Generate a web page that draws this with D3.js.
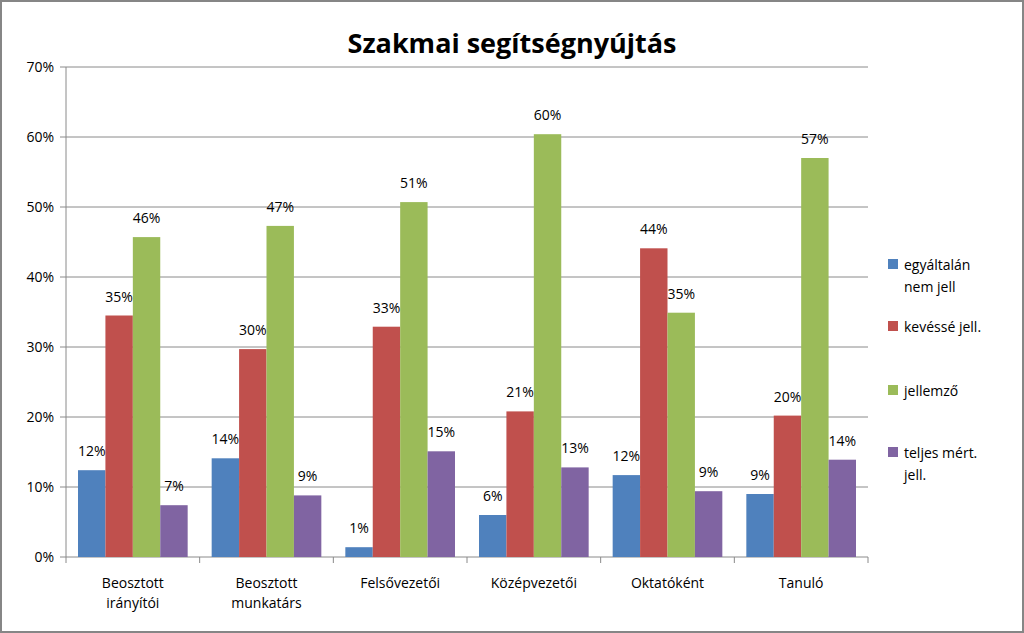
<!DOCTYPE html>
<html><head><meta charset="utf-8">
<script src="https://cdn.jsdelivr.net/npm/d3@7"></script>
<style>body{margin:0;background:#fff}text{font-family:"Open Sans","Liberation Sans",sans-serif}</style>
</head><body><svg id="c" width="1024" height="633"></svg>
<script>
const categories = [["Beosztott","irányítói"],["Beosztott","munkatárs"],["Felsővezetői"],["Középvezetői"],["Oktatóként"],["Tanuló"]];
const series = ["egyáltalán nem jell", "kevéssé jell.", "jellemző", "teljes mért. jell."];
const legendLines = [["egyáltalán","nem jell"],["kevéssé jell."],[" jellemző"],["teljes mért.","jell."]];
const colors = ["#4F81BD", "#C0504D", "#9BBB59", "#8064A2"];
const values = [
  [12.4, 34.5, 45.7, 7.4],
  [14.1, 29.7, 47.3, 8.8],
  [1.4, 32.9, 50.7, 15.1],
  [6.0, 20.8, 60.4, 12.8],
  [11.7, 44.1, 34.9, 9.4],
  [9.0, 20.2, 57.0, 13.9]
];
const yTicks = [0,10,20,30,40,50,60,70];

const svg = d3.select("#c");
svg.append("rect").attr("x",1).attr("y",1).attr("width",1022).attr("height",631)
  .attr("fill","#fff").attr("stroke","#868686").attr("stroke-width",2);
svg.append("text").attr("x",512).attr("y",53).attr("text-anchor","middle")
  .attr("font-size",27).attr("font-weight","bold").text("Szakmai segítségnyújtás");

const x0 = d3.scaleBand().domain(d3.range(categories.length)).range([66,868]);
const x1 = d3.scaleBand().domain(d3.range(series.length)).range([12, x0.bandwidth()-12]).padding(0);
const y = d3.scaleLinear().domain([0,70]).range([557,67]);

svg.append("g").selectAll("line").data(yTicks).join("line")
  .attr("x1",66).attr("x2",868).attr("y1",d=>y(d)).attr("y2",d=>y(d)).attr("stroke","#8a8a8a");
svg.append("line").attr("x1",66).attr("x2",66).attr("y1",67).attr("y2",557).attr("stroke","#8a8a8a");
svg.append("g").selectAll("line").data(yTicks).join("line")
  .attr("x1",60).attr("x2",66).attr("y1",d=>y(d)).attr("y2",d=>y(d)).attr("stroke","#8a8a8a");
svg.append("g").selectAll("text").data(yTicks).join("text")
  .attr("x",54).attr("y",d=>y(d)+5).attr("text-anchor","end").attr("font-size",14).text(d=>d+"%");
svg.append("g").selectAll("line").data(d3.range(categories.length+1)).join("line")
  .attr("x1",d=>66+d*x0.bandwidth()).attr("x2",d=>66+d*x0.bandwidth()).attr("y1",557).attr("y2",563).attr("stroke","#8a8a8a");

const g = svg.append("g").selectAll("g").data(values).join("g")
  .attr("transform",(d,i)=>`translate(${x0(i)},0)`);
g.selectAll("rect").data(d=>d).join("rect")
  .attr("x",(d,j)=>x1(j)).attr("width",x1.bandwidth()).attr("y",d=>y(d)).attr("height",d=>557-y(d))
  .attr("fill",(d,j)=>colors[j]);
g.selectAll("text").data(d=>d).join("text")
  .attr("x",(d,j)=>x1(j)+x1.bandwidth()/2).attr("y",d=>y(d)-14).attr("text-anchor","middle")
  .attr("font-size",14).text(d=>Math.round(d)+"%");

const cl = svg.append("g").selectAll("text").data(categories).join("text")
  .attr("x",(d,i)=>x0(i)+x0.bandwidth()/2).attr("y",588).attr("text-anchor","middle").attr("font-size",14);
cl.selectAll("tspan").data(d=>d).join("tspan").attr("x",function(){return this.parentNode.getAttribute("x");})
  .attr("dy",(d,k)=>k?20:0).text(d=>d);

const lg = svg.append("g").selectAll("g").data(legendLines).join("g")
  .attr("transform",(d,i)=>`translate(888,${[259,321,385,447][i]})`);
lg.append("rect").attr("width",10).attr("height",10).attr("fill",(d,i)=>colors[i]);
lg.append("text").attr("x",16).attr("y",11).attr("font-size",14)
  .selectAll("tspan").data(d=>d).join("tspan").attr("x",16).attr("dy",(d,k)=>k?22:0).text(d=>d);
</script></body></html>
